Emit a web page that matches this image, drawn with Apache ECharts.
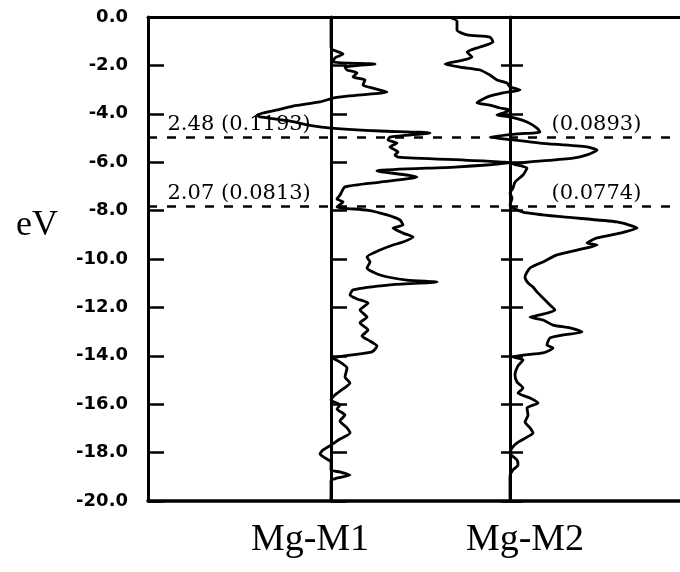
<!DOCTYPE html>
<html><head><meta charset="utf-8">
<script src="https://cdn.jsdelivr.net/npm/echarts@6/dist/echarts.min.js"></script>
<style>html,body{margin:0;padding:0;background:#fff}#c{width:680px;height:572px}</style>
</head><body><div id="c"></div>
<script>
// Mg-M1 curve: energy (eV) and overlap population (arb. units, baseline 0)
const m1Energy = [0,-1.24,-1.36,-1.53,-1.69,-1.86,-1.94,-2.07,-2.19,-2.31,-2.48,-2.60,-2.81,-2.93,-3.10,-3.26,-3.35,-3.51,-3.68,-3.84,-4.05,-4.13,-4.30,-4.50,-4.59,-4.71,-4.79,-4.96,-5.08,-5.21,-5.37,-5.58,-5.70,-5.79,-6.03,-6.20,-6.36,-6.61,-6.82,-7.02,-7.36,-7.52,-7.64,-7.85,-7.98,-8.18,-8.39,-8.60,-8.72,-8.93,-9.09,-9.30,-9.42,-9.63,-9.92,-10.12,-10.37,-10.66,-10.87,-10.95,-11.07,-11.28,-11.49,-11.65,-11.82,-12.11,-12.40,-12.64,-12.93,-13.18,-13.39,-13.60,-13.84,-13.97,-14.09,-14.26,-14.50,-14.88,-15.12,-15.37,-15.62,-15.83,-16.03,-16.20,-16.45,-16.69,-16.98,-17.19,-17.44,-17.69,-17.89,-18.06,-18.22,-18.39,-18.72,-18.80,-18.93,-19.05,-19.17,-20];
const m1Value = [0,0,0.02,0.12,0.04,0.02,0.44,0.14,0.16,0.26,0.22,0.34,0.32,0.41,0.56,0.19,0.02,-0.11,-0.38,-0.54,-0.74,-0.71,-0.41,-0.18,0,0.49,0.99,0.59,0.57,0.66,0.59,0.67,0.64,0.67,1.79,1.24,0.46,0.86,0.49,0.14,0.09,0.06,0.12,0.06,0.36,0.56,0.69,0.72,0.62,0.72,0.82,0.72,0.62,0.49,0.36,0.39,0.36,0.49,0.76,1.06,0.59,0.22,0.19,0.26,0.37,0.29,0.36,0.29,0.37,0.31,0.39,0.46,0.41,0.19,0.02,0.09,0.16,0.14,0.19,0.12,0.04,0,0.09,0.06,0.14,0.09,0.16,0.19,0.09,0,-0.08,-0.11,-0.06,0,0,0.09,0.19,0.06,0,0];

// Mg-M2 curve
const m2Energy = [0,-0.17,-0.54,-0.74,-0.83,-1.03,-1.24,-1.45,-1.65,-1.78,-1.94,-2.07,-2.19,-2.40,-2.60,-2.73,-2.89,-3.02,-3.14,-3.31,-3.55,-3.64,-3.76,-3.84,-3.97,-4.05,-4.13,-4.34,-4.59,-4.75,-4.83,-4.96,-5.08,-5.21,-5.37,-5.50,-5.70,-5.83,-5.99,-6.07,-6.24,-6.53,-6.82,-7.07,-7.27,-7.48,-7.77,-8.06,-8.26,-8.47,-8.72,-8.93,-9.13,-9.34,-9.42,-9.63,-9.83,-10.12,-10.37,-10.74,-10.99,-11.16,-11.36,-11.61,-11.90,-12.11,-12.31,-12.40,-12.52,-12.73,-12.85,-13.02,-13.14,-13.26,-13.55,-13.68,-13.88,-13.97,-14.05,-14.17,-14.42,-14.79,-15.08,-15.33,-15.54,-15.74,-15.95,-16.16,-16.45,-16.74,-16.98,-17.19,-17.36,-17.60,-17.81,-18.02,-18.31,-18.51,-18.72,-18.97,-20];
const m2Value = [-0.62,-0.53,-0.53,-0.43,-0.20,-0.17,-0.30,-0.43,-0.38,-0.47,-0.65,-0.50,-0.30,-0.20,-0.13,-0.03,0,0.10,-0.07,-0.23,-0.33,-0.20,-0.10,0,-0.07,-0.13,0,0.17,0.27,0.30,0.07,-0.20,0.03,0.30,0.77,0.87,0.77,0.63,0.20,0.03,0.17,0.13,0.05,0.03,0,0.02,0,0.13,0.53,1.07,1.27,1.10,0.87,0.77,0.87,0.67,0.47,0.33,0.20,0.15,0.18,0.23,0.27,0.33,0.40,0.45,0.30,0.20,0.33,0.43,0.60,0.72,0.53,0.40,0.37,0.43,0.33,0.13,0.03,0.13,0.08,0.05,0.07,0.13,0.08,0.20,0.28,0.17,0.18,0.15,0.20,0.23,0.17,0.07,0.02,0,0.07,0.08,0.03,0,0];

// dashed reference levels and their annotations
const levelEnergy = [-4.96, -7.81];
const leftLabels = ['2.48 (0.1193)', '2.07 (0.0813)'];
const rightLabels = ['(0.0893)', '(0.0774)'];
const curveNames = ['Mg-M1', 'Mg-M2'];
const yTickStep = 2;

const pair = (e, v) => e.map((y, i) => [v[i], y]);

const chart = echarts.init(document.getElementById('c'), null, {renderer: 'canvas'});
const mkY = (extra) => Object.assign({
  type: 'value', min: -20, max: 0, interval: yTickStep, position: 'left',
  splitLine: {show: false},
  axisLine: {show: true, onZero: false, lineStyle: {color: '#000', width: 3}},
  axisLabel: {show: false}
}, extra);
const annoLabel = {
  show: true, position: [0, 0], align: 'left', verticalAlign: 'bottom',
  fontFamily: 'DejaVu Serif', fontSize: 21, color: '#000', offset: [0, -1]
};
const hidden = {color: 'rgba(0,0,0,0)', borderWidth: 0};
const option = {
  animation: false,
  backgroundColor: '#fff',
  grid: {left: 148, right: 0, top: 17, bottom: 71, containLabel: false},
  xAxis: [
    {type: 'value', min: -1.83, max: 3.49, position: 'bottom', splitLine: {show: false},
     axisLine: {show: true, onZero: false, lineStyle: {color: '#000', width: 3.5}}, axisTick: {show: false}, axisLabel: {show: false}},
    {type: 'value', min: -3.62, max: 1.70, position: 'top', splitLine: {show: false},
     axisLine: {show: true, onZero: false, lineStyle: {color: '#000', width: 3}}, axisTick: {show: false}, axisLabel: {show: false}}
  ],
  yAxis: [
    mkY({
      axisTick: {show: true, inside: true, length: 16, lineStyle: {color: '#000', width: 2.5}},
      axisLabel: {show: true, margin: 20, fontFamily: 'DejaVu Sans', fontWeight: 'bold', fontSize: 18, color: '#000',
        formatter: v => v.toFixed(1)}
    }),
    mkY({offset: -183,
      axisTick: {show: true, inside: true, length: 16, lineStyle: {color: '#000', width: 2.5}}}),
    mkY({offset: -362,
      axisTick: {show: true, inside: true, length: 13, lineStyle: {color: '#000', width: 2.5}}}),
    mkY({offset: -353, axisLine: {show: false, onZero: false, lineStyle: {color: 'rgba(0,0,0,0)', width: 0}},
      axisTick: {show: true, inside: true, length: 9, lineStyle: {color: '#000', width: 2.5}}})
  ],
  series: [
    {
      name: curveNames[0], type: 'line', xAxisIndex: 0, yAxisIndex: 0,
      data: pair(m1Energy, m1Value), showSymbol: false, smooth: 0.2,
      lineStyle: {color: '#000', width: 2.8}, z: 5,
      markLine: {
        silent: true, symbol: 'none', label: {show: false},
        lineStyle: {color: '#000', width: 2.5, type: [9, 10]},
        data: levelEnergy.map(e => ({yAxis: e}))
      },
      markPoint: {
        silent: true, symbol: 'rect', symbolSize: 1, itemStyle: hidden,
        data: levelEnergy.map((e, i) => ({coord: [-1.63, e], label: Object.assign({}, annoLabel, {formatter: leftLabels[i]})}))
      }
    },
    {
      name: curveNames[1], type: 'line', xAxisIndex: 1, yAxisIndex: 0,
      data: pair(m2Energy, m2Value), showSymbol: false, smooth: 0.2,
      lineStyle: {color: '#000', width: 2.8}, z: 5,
      markPoint: {
        silent: true, symbol: 'rect', symbolSize: 1, itemStyle: hidden,
        data: levelEnergy.map((e, i) => ({coord: [0.42, e], label: Object.assign({}, annoLabel, {formatter: rightLabels[i]})}))
      }
    }
  ],
  graphic: [
    {type: 'text', x: 37, y: 226, style: {text: 'eV', fontFamily: 'Liberation Serif', fontSize: 36, fill: '#000', textAlign: 'center', textVerticalAlign: 'middle'}},
    {type: 'text', x: 310, y: 540, style: {text: curveNames[0], fontFamily: 'Liberation Serif', fontSize: 38, fill: '#000', textAlign: 'center', textVerticalAlign: 'middle'}},
    {type: 'text', x: 525, y: 540, style: {text: curveNames[1], fontFamily: 'Liberation Serif', fontSize: 38, fill: '#000', textAlign: 'center', textVerticalAlign: 'middle'}}
  ]
};
chart.setOption(option);
</script>
</body></html>
